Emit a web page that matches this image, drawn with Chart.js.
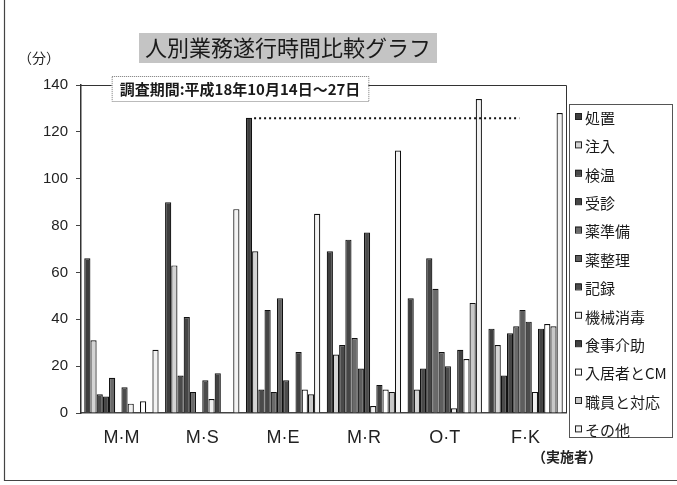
<!DOCTYPE html>
<html lang="ja">
<head>
<meta charset="utf-8">
<title>人別業務遂行時間比較グラフ</title>
<script src="https://cdn.jsdelivr.net/npm/chart.js@4/dist/chart.umd.min.js"></script>
<style>
  html, body { margin: 0; padding: 0; background: #fff; }
  #wrap { width: 677px; height: 485px; position: relative; }
  canvas { display: block; }
</style>
</head>
<body>
<div id="wrap"><canvas id="chart" width="677" height="485"></canvas></div>
<script>
// 実施者（カテゴリ）
const workers = ['M·M', 'M·S', 'M·E', 'M·R', 'O·T', 'F·K'];

// 業務名（系列）
const taskNames = ['処置', '注入', '検温', '受診', '薬準備', '薬整理', '記録',
                   '機械消毒', '食事介助', '入居者とCM', '職員と対応', 'その他'];

// 業務ごとの所要時間（分）
const shochi       = [66, 90, 126, 69, 49, 36];
const chunyu       = [31, 63, 69, 25, 10, 29];
const kenon        = [8, 16, 10, 29, 19, 16];
const jushin       = [7, 41, 44, 74, 66, 34];
const yakuJunbi    = [15, 9, 9, 32, 53, 37];
const yakuSeiri    = [0, 0, 49, 19, 26, 44];
const kiroku       = [11, 14, 14, 77, 20, 39];
const kikaiShodoku = [4, 6, 0, 3, 2, 9];
const shokujiKaijo = [0, 17, 26, 12, 27, 36];
const nyukyoshaCM  = [5, 0, 10, 10, 23, 38];
const shokuinTaio  = [0, 0, 8, 9, 47, 37];
const sonota       = [27, 87, 85, 112, 134, 128];

// 目盛
const yTicks = [0, 20, 40, 60, 80, 100, 120, 140];

const seriesValues = [shochi, chunyu, kenon, jushin, yakuJunbi, yakuSeiri, kiroku,
                      kikaiShodoku, shokujiKaijo, nyukyoshaCM, shokuinTaio, sonota];
const fills = ['#3e3e3e', '#d4d4d4', '#4a4a4a', '#464646', '#6a6a6a', '#5e5e5e', '#4c4c4c',
               '#f0f0f0', '#424242', '#ffffff', '#c8c8c8', '#f3f3f3'];

const CJK = '"Noto Sans CJK JP", sans-serif';
const LAT = '"Liberation Sans", Arial, sans-serif';

// 枠・見出し・凡例・最大値の点線
const decorations = {
  id: 'decorations',
  afterDraw(chart) {
    const { ctx, chartArea: a, scales } = chart;
    ctx.save();

    // 外枠
    ctx.strokeStyle = '#444';
    ctx.lineWidth = 1.2;
    ctx.beginPath();
    ctx.moveTo(4.5, 0); ctx.lineTo(4.5, 480.5); ctx.lineTo(677, 480.5);
    ctx.stroke();

    // プロット領域の上辺・右辺
    ctx.strokeStyle = '#333';
    ctx.lineWidth = 1;
    ctx.beginPath();
    ctx.moveTo(a.left, a.top + 0.5); ctx.lineTo(a.right + 0.5, a.top + 0.5);
    ctx.lineTo(a.right + 0.5, a.bottom);
    ctx.stroke();

    // 最大値の点線（M·E の処置）
    const meta = chart.getDatasetMeta(0);
    const peakIdx = shochi.indexOf(Math.max(...shochi));
    const bar = meta.data[peakIdx];
    const yPeak = scales.y.getPixelForValue(shochi[peakIdx]);
    const xEnd = scales.x.getPixelForValue(workers.length - 1) - bar.width;
    ctx.strokeStyle = '#111';
    ctx.lineWidth = 2;
    ctx.setLineDash([2, 3]);
    ctx.beginPath();
    ctx.moveTo(bar.x + bar.width / 2 + 2, yPeak + 0.5);
    ctx.lineTo(xEnd, yPeak + 0.5);
    ctx.stroke();
    ctx.setLineDash([]);

    // タイトル
    ctx.font = '22px ' + CJK;
    ctx.textAlign = 'center';
    ctx.textBaseline = 'middle';
    const title = '人別業務遂行時間比較グラフ';
    const tw = ctx.measureText(title).width;
    const tx = 288, ty = 48;
    ctx.fillStyle = '#c4c4c4';
    ctx.fillRect(tx - tw / 2 - 6, ty - 15, tw + 12, 30);
    ctx.fillStyle = '#1a1a1a';
    ctx.fillText(title, tx, ty);

    // 調査期間
    ctx.font = 'bold 15px ' + CJK;
    const sub = '調査期間:平成18年10月14日～27日';
    const sw = ctx.measureText(sub).width;
    const sx = 240, sy = 88;
    ctx.fillStyle = '#fff';
    ctx.fillRect(sx - sw / 2 - 8, sy - 12, sw + 16, 25);
    ctx.strokeStyle = '#777';
    ctx.lineWidth = 1;
    ctx.setLineDash([1, 1]);
    ctx.strokeRect(sx - sw / 2 - 8 + 0.5, sy - 12 + 0.5, sw + 16, 25);
    ctx.setLineDash([]);
    ctx.fillStyle = '#1a1a1a';
    ctx.fillText(sub, sx, sy + 1);

    // 単位・軸名
    ctx.font = '14px ' + CJK;
    ctx.fillStyle = '#222';
    ctx.fillText('（分）', 39, 58);
    ctx.font = 'bold 14px ' + CJK;
    ctx.fillText('（実施者）', 567, 457);

    // 凡例
    const lx = 569, ly = 104, lw = 103, lh = 333;
    ctx.strokeStyle = '#555';
    ctx.lineWidth = 1;
    ctx.strokeRect(lx + 0.5, ly + 0.5, lw, lh);
    ctx.font = '15px ' + CJK;
    ctx.textAlign = 'left';
    chart.data.datasets.forEach((ds, i) => {
      const y = 117 + i * 28.4;
      ctx.fillStyle = ds.backgroundColor;
      ctx.fillRect(575, y - 4, 6, 6);
      ctx.strokeStyle = '#222';
      ctx.strokeRect(575.5, y - 3.5, 6, 6);
      ctx.fillStyle = '#1a1a1a';
      ctx.fillText(ds.label, 585, y + 1);
    });

    ctx.restore();
  }
};

new Chart(document.getElementById('chart'), {
  type: 'bar',
  data: {
    labels: workers,
    datasets: taskNames.map((name, i) => ({
      label: name,
      data: seriesValues[i],
      backgroundColor: fills[i],
      borderColor: '#111',
      borderWidth: 1.2,
      categoryPercentage: 0.92,
      barPercentage: 1.0
    }))
  },
  options: {
    responsive: false,
    animation: false,
    layout: { padding: { top: 85, right: 111, bottom: 0, left: 0 } },
    plugins: {
      legend: { display: false },
      title: { display: false },
      tooltip: { enabled: false }
    },
    scales: {
      x: {
        grid: { display: false },
        border: { display: true, color: '#444', width: 1.5 },
        ticks: { color: '#222', font: { family: LAT, size: 18 }, padding: 6 },
        afterFit(scale) { scale.height = 72; }
      },
      y: {
        min: 0,
        max: 140,
        afterBuildTicks(scale) { scale.ticks = yTicks.map(v => ({ value: v })); },
        grid: { drawOnChartArea: false, drawTicks: true, tickLength: 5, color: '#444' },
        border: { display: true, color: '#333', width: 1.5 },
        ticks: { color: '#222', font: { family: LAT, size: 15 }, padding: 8 },
        afterFit(scale) { scale.width = 81; }
      }
    }
  },
  plugins: [decorations]
});
</script>
</body>
</html>
